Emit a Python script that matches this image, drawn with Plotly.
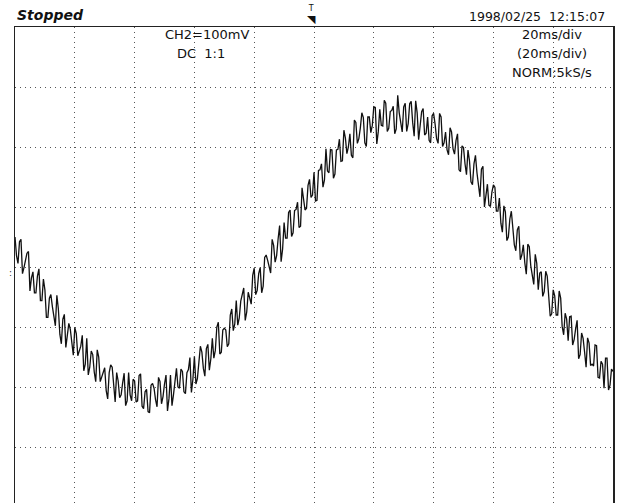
import plotly.graph_objects as go

# CH2 trace: 20 ms/div x 10 div, 100 mV/div.
# samples on whole milliseconds (0..200 ms)
ch2_whole_ms = [
    50, 6, 46, -1, 23, -40, -8, -43, -3, -56,
    -38, -84, -46, -82, -47, -112, -87, -134, -94, -131,
    -101, -148, -132, -173, -119, -167, -146, -191, -150, -183,
    -168, -220, -163, -205, -176, -218, -193, -231, -176, -223,
    -190, -223, -178, -236, -204, -243, -194, -221, -184, -228,
    -195, -240, -180, -213, -169, -202, -174, -211, -171, -209,
    -149, -186, -132, -169, -136, -172, -119, -139, -92, -142,
    -102, -133, -80, -106, -56, -85, -45, -89, -42, -62,
    -2, -39, -1, -32, 20, 1, 46, 8, 47, 9,
    74, 48, 95, 57, 96, 66, 132, 95, 136, 116,
    158, 111, 162, 133, 197, 157, 195, 155, 196, 176,
    228, 189, 222, 182, 241, 214, 257, 207, 250, 224,
    267, 205, 263, 235, 273, 231, 261, 222, 286, 237,
    267, 226, 272, 241, 277, 212, 259, 220, 250, 207,
    256, 214, 256, 201, 225, 187, 225, 188, 222, 159,
    199, 154, 177, 137, 186, 135, 163, 100, 138, 101,
    137, 93, 115, 58, 92, 50, 93, 37, 62, 12,
    37, -12, 34, -11, 21, -38, -8, -41, -15, -82,
    -38, -80, -40, -99, -77, -123, -82, -121, -89, -146,
    -119, -167, -127, -162, -130, -184, -157, -202, -152, -197,
    -174,
]
# samples on the half milliseconds (0.5..199.5 ms)
ch2_half_ms = [
    19, 42, -11, 13, 26, -18, -43, -15, -56, -20,
    -84, -52, -66, -98, -70, -128, -79, -116, -104, -147,
    -111, -139, -114, -162, -180, -140, -175, -138, -191, -174,
    -206, -176, -167, -225, -190, -213, -177, -223, -213, -187,
    -225, -181, -232, -208, -241, -197, -202, -233, -191, -216,
    -180, -219, -231, -186, -200, -170, -208, -176, -151, -187,
    -195, -159, -142, -182, -129, -153, -152, -100, -145, -105,
    -105, -128, -70, -95, -97, -57, -35, -75, -52, -14,
    -46, -11, -43, 16, 11, -10, 36, 19, 69, 30,
    48, 91, 51, 94, 108, 68, 112, 98, 146, 120,
    110, 161, 172, 145, 160, 196, 148, 195, 213, 177,
    215, 200, 186, 245, 206, 232, 249, 201, 250, 236,
    266, 226, 236, 278, 226, 259, 268, 230, 257, 225,
    273, 239, 276, 218, 257, 239, 264, 223, 211, 252,
    238, 206, 250, 207, 195, 232, 197, 211, 162, 202,
    172, 195, 142, 172, 157, 117, 168, 116, 103, 125,
    133, 93, 73, 102, 44, 80, 65, 27, 68, 20,
    7, 38, 2, -29, 6, -10, -49, -7, -54, -78,
    -48, -80, -52, -113, -87, -83, -130, -103, -153, -110,
    -142, -118, -164, -165, -131, -185, -162, -152, -205, -170,
]

x_ticks = list(range(0, 201, 20))
y_ticks = list(range(-400, 401, 100))

header_left = "Stopped"
header_right = "1998/02/25  12:15:07"
ch_lines = ["CH2=100mV", "DC  1:1"]
time_lines = ["20ms/div", "(20ms/div)", "NORM:5kS/s"]

# put the two sample sets in time order
time_ms, ch2_mv = [], []
for i, v in enumerate(ch2_whole_ms):
    time_ms.append(i)
    ch2_mv.append(v)
    if i < len(ch2_half_ms):
        time_ms.append(i + 0.5)
        ch2_mv.append(ch2_half_ms[i])

W, H = 619, 503
L, R, T, B = 15, 6, 27, 0
plot_h = H - T - B
y_top = 400
y_bottom = y_top - plot_h * 100 / 60  # 60 px per division

fig = go.Figure()
fig.add_trace(go.Scatter(
    x=time_ms, y=ch2_mv, mode="lines",
    line=dict(color="#111111", width=1.3),
    hoverinfo="skip", showlegend=False,
))

grid = dict(showgrid=True, gridcolor="#555555", gridwidth=1, griddash="1px,4px",
            zeroline=False, showticklabels=False, ticks="",
            showline=True, linecolor="#222222", linewidth=1.5, mirror=True,
            fixedrange=True)
fig.update_xaxes(range=[0, 200], tickvals=x_ticks, **grid)
fig.update_yaxes(range=[y_bottom, y_top], tickvals=y_ticks, **grid)

fnt = "DejaVu Sans"
ink = "#111111"
ann = []
ann.append(dict(x=0, y=1, xref="paper", yref="paper", xanchor="left", yanchor="middle",
                yshift=12, text="<b><i>" + header_left + "</i></b>", showarrow=False,
                font=dict(family=fnt, size=14, color=ink)))
ann.append(dict(x=0.99, y=1, xref="paper", yref="paper", xanchor="right", yanchor="middle",
                yshift=11, text=header_right, showarrow=False,
                font=dict(family=fnt, size=12.5, color=ink)))
ann.append(dict(x=0.321, y=1, xref="paper", yref="paper", xanchor="center",
                yanchor="middle", yshift=-7, text=ch_lines[0], showarrow=False,
                font=dict(family=fnt, size=13, color=ink)))
ann.append(dict(x=0.267, y=1, xref="paper", yref="paper", xanchor="left",
                yanchor="middle", yshift=-26, text=ch_lines[1], showarrow=False,
                font=dict(family=fnt, size=13, color=ink)))
for i, s in enumerate(time_lines):
    ann.append(dict(x=0.898, y=1, xref="paper", yref="paper", xanchor="center",
                    yanchor="middle", yshift=-7 - 19 * i, text=s, showarrow=False,
                    font=dict(family=fnt, size=13, color=ink)))
# trigger marker (one text block: small T over a filled corner triangle)
ann.append(dict(x=0.495, y=1, xref="paper", yref="paper", xanchor="center", yanchor="middle",
                yshift=12, borderpad=0,
                text="<span style='font-size:8px'>T</span><br>"
                     "<span style='font-size:11px'>◥</span>",
                showarrow=False, font=dict(family=fnt, size=9, color=ink)))
# channel marker at left
ann.append(dict(x=0, y=0, xref="paper", yref="y", xanchor="right", yanchor="middle",
                xshift=-1, yshift=-6, text=":", showarrow=False,
                font=dict(family=fnt, size=9, color="#333333")))

fig.update_layout(
    width=W, height=H,
    margin=dict(l=L, r=R, t=T, b=B, autoexpand=False),
    paper_bgcolor="white", plot_bgcolor="white",
    annotations=ann, hovermode=False,
)

fig.write_html("out.html", config={"displayModeBar": False, "staticPlot": True},
               post_script="document.body.style.margin='0';")
